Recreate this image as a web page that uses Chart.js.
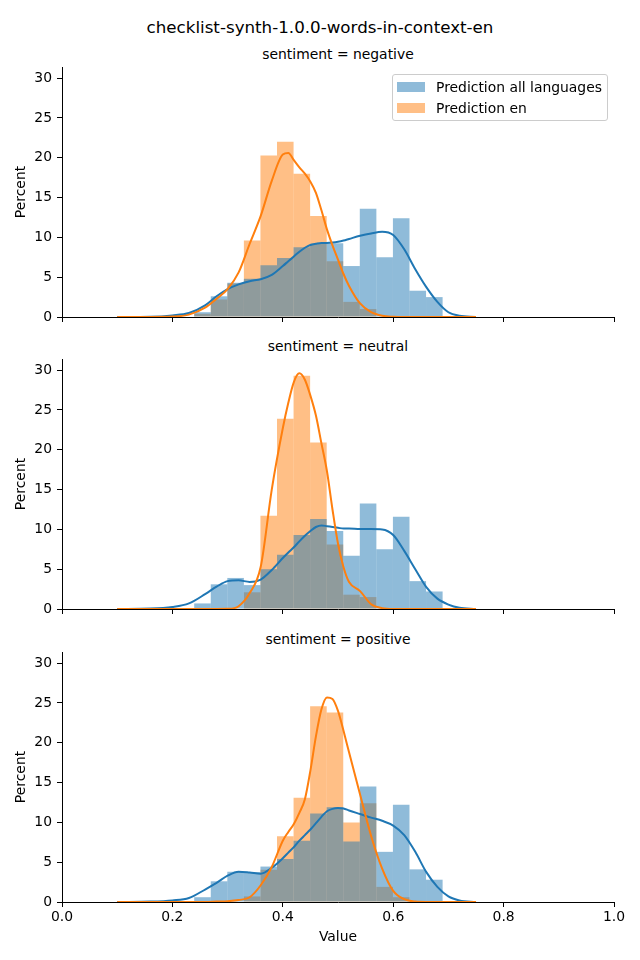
<!DOCTYPE html>
<html>
<head>
<meta charset="utf-8">
<script src="https://cdn.jsdelivr.net/npm/chart.js@4.4.1/dist/chart.umd.min.js"></script>
<style>
  body { margin: 0; background: #fff; }
  #wrap { position: relative; width: 640px; height: 960px; font-family: 'DejaVu Sans', sans-serif; color: #000; }
  canvas { position: absolute; left: 0; }
  .title { position: absolute; text-align: center; white-space: nowrap; }
  #legend { position: absolute; left: 392px; top: 74px; width: 214px; height: 45px; border: 1px solid #cccccc; border-radius: 3px; background: rgba(255,255,255,0.8); font-size: 13.9px; }
  .row { position: absolute; left: 0; height: 16px; line-height: 16px; }
  .patch { position: absolute; left: 4px; top: 3px; width: 28px; height: 10px; }
  .lbl { position: absolute; left: 43px; top: 0; white-space: nowrap; }
</style>
</head>
<body>
<div id="wrap">
  <div class="title" style="left:0;width:640px;top:17px;font-size:16.7px;line-height:20px;">checklist-synth-1.0.0-words-in-context-en</div>
  <div class="title" style="left:62px;width:552px;top:46px;font-size:13.9px;line-height:16px;">sentiment = negative</div>
  <div class="title" style="left:62px;width:552px;top:338px;font-size:13.9px;line-height:16px;">sentiment = neutral</div>
  <div class="title" style="left:62px;width:552px;top:631px;font-size:13.9px;line-height:16px;">sentiment = positive</div>
  <canvas id="neg" width="640" height="278" style="top:53px"></canvas>
  <canvas id="neu" width="640" height="278" style="top:345px"></canvas>
  <canvas id="pos" width="640" height="322" style="top:638px"></canvas>
  <div id="legend">
    <div class="row" style="top:4px"><span class="patch" style="background:rgba(31,119,180,0.5)"></span><span class="lbl">Prediction all languages</span></div>
    <div class="row" style="top:25px"><span class="patch" style="background:rgba(255,127,14,0.5)"></span><span class="lbl">Prediction en</span></div>
  </div>
</div>
<script>
// histogram bins (centres, width 0.03)
const binCenters = [0.2545, 0.2845, 0.3145, 0.3445, 0.3745, 0.4045, 0.4345, 0.4645, 0.4945, 0.5245, 0.5545, 0.5845, 0.6145, 0.6445, 0.6745];

// percent per bin
const negAll = [0.6, 2.6, 4.3, 4.8, 6.5, 7.4, 8.75, 9.2, 9.25, 6.4, 13.6, 7.5, 12.4, 3.3, 2.5];
const negEn  = [0.4, 2.2, 4.2, 9.6, 20.3, 22.0, 18.0, 12.7, 7.0, 1.9, 1.0, 0, 0, 0, 0];
const neuAll = [0.7, 3.1, 3.9, 3.0, 5.0, 6.8, 9.3, 11.3, 9.8, 6.7, 13.25, 7.5, 11.6, 3.5, 2.2];
const neuEn  = [0, 0, 0, 2.1, 11.7, 23.9, 29.3, 20.9, 8.1, 1.8, 1.5, 0, 0, 0, 0];
const posAll = [0.6, 2.6, 3.8, 3.75, 4.45, 5.4, 7.7, 11.1, 11.9, 7.6, 14.5, 6.3, 12.2, 4.1, 2.8];
const posEn  = [0, 0, 0, 0.7, 4.05, 8.25, 13.1, 24.6, 23.8, 10.0, 12.4, 1.9, 0.6, 0, 0];

// density curves, sampled at kdeX
const kdeX = [0.10, 0.16, 0.20, 0.23, 0.26, 0.28, 0.30, 0.32, 0.34, 0.36,
              0.38, 0.40, 0.41, 0.42, 0.43, 0.44, 0.45, 0.46, 0.47, 0.48,
              0.49, 0.50, 0.51, 0.52, 0.54, 0.56, 0.58, 0.60, 0.62, 0.64,
              0.66, 0.68, 0.70, 0.72, 0.75];
const kdeNegAll = [0, 0.03, 0.2, 0.5, 1.5, 2.6, 3.5, 4.1, 4.5, 4.75,
                   5.3, 6.4, 7.0, 7.6, 8.2, 8.7, 9.05, 9.2, 9.3, 9.3,
                   9.35, 9.45, 9.6, 9.8, 10.2, 10.5, 10.7, 10.3, 8.5, 6.0,
                   3.75, 1.9, 0.6, 0.15, 0];
const kdeNegEn  = [0, 0, 0.05, 0.3, 1.2, 2.3, 3.5, 5.6, 9.2, 12.7,
                   17.1, 20.4, 20.6, 19.7, 18.8, 18.0, 17.0, 15.6, 13.4, 11.0,
                   9.0, 7.2, 5.4, 3.9, 1.7, 0.6, 0.15, 0.03, 0, 0,
                   0, 0, 0, 0, 0];
const kdeNeuAll = [0, 0.05, 0.25, 0.7, 1.9, 2.8, 3.5, 3.6, 3.4, 3.7,
                   4.9, 6.4, 7.1, 7.75, 8.5, 9.2, 9.8, 10.3, 10.5, 10.4,
                   10.3, 10.2, 10.1, 10.1, 10.05, 10.05, 10.0, 9.3, 7.3, 5.0,
                   2.75, 1.3, 0.55, 0.15, 0];
const kdeNeuEn  = [0, 0, 0, 0, 0, 0, 0.02, 0.35, 2.0, 5.3,
                   15.0, 22.7, 25.9, 28.5, 29.6, 28.8, 26.8, 24.3, 20.8, 17.3,
                   12.5, 8.2, 5.25, 3.4, 2.25, 0.6, 0.1, 0, 0, 0,
                   0, 0, 0, 0, 0];
const kdePosAll = [0, 0.05, 0.2, 0.5, 1.6, 2.4, 3.3, 3.8, 3.7, 3.55,
                   4.3, 5.5, 6.2, 6.9, 7.7, 8.4, 9.1, 9.9, 10.7, 11.4,
                   11.7, 11.8, 11.75, 11.5, 11.05, 10.6, 10.2, 9.6, 8.4, 6.3,
                   3.75, 1.9, 0.7, 0.2, 0];
const kdePosEn  = [0, 0, 0, 0, 0, 0.05, 0.1, 0.25, 0.6, 2.1,
                   4.4, 7.7, 8.8, 9.8, 11.2, 12.9, 16.5, 20.8, 24.2, 25.7,
                   25.5, 24.0, 21.5, 18.8, 13.5, 8.3, 4.2, 1.4, 0.35, 0.05,
                   0, 0, 0, 0, 0];

// axis ticks
const xTicks = [0, 0.2, 0.4, 0.6, 0.8, 1.0];
const yTicks = [0, 5, 10, 15, 20, 25, 30];
const yMax = 31.4;

const BLUE = '#1f77b4';
const ORANGE = '#ff7f0e';

Chart.defaults.font.family = "'DejaVu Sans', sans-serif";
Chart.defaults.font.size = 13.9;
Chart.defaults.color = '#000';

function toPoints(xs, ys) {
    return xs.map((x, i) => ({ x: x, y: ys[i] }));
}

// draw one facet
function drawPanel(id, allVals, enVals, kdeAll, kdeEn, isBottom) {
    const ctx = document.getElementById(id).getContext('2d');
    new Chart(ctx, {
        type: 'bar',
        data: {
            datasets: [
                {
                    type: 'line',
                    data: toPoints(kdeX, kdeEn),
                    borderColor: ORANGE,
                    borderWidth: 2,
                    pointRadius: 0,
                    cubicInterpolationMode: 'monotone',
                    order: 0
                },
                {
                    type: 'line',
                    data: toPoints(kdeX, kdeAll),
                    borderColor: BLUE,
                    borderWidth: 2,
                    pointRadius: 0,
                    cubicInterpolationMode: 'monotone',
                    order: 1
                },
                {
                    data: toPoints(binCenters, allVals),
                    backgroundColor: 'rgba(31,119,180,0.5)',
                    borderWidth: 0,
                    inflateAmount: 0,
                    grouped: false,
                    barPercentage: 1,
                    categoryPercentage: 1,
                    order: 2
                },
                {
                    data: toPoints(binCenters, enVals),
                    backgroundColor: 'rgba(255,127,14,0.5)',
                    borderWidth: 0,
                    inflateAmount: 0,
                    grouped: false,
                    barPercentage: 1,
                    categoryPercentage: 1,
                    order: 3
                }
            ]
        },
        options: {
            responsive: false,
            animation: false,
            devicePixelRatio: 1,
            layout: { padding: { top: 14, right: 26, bottom: 0, left: 0 } },
            plugins: { legend: { display: false }, tooltip: { enabled: false } },
            scales: {
                x: {
                    type: 'linear',
                    min: 0,
                    max: 1,
                    offset: false,
                    grid: { offset: false, drawOnChartArea: false, drawTicks: true, tickLength: 5, color: '#000' },
                    border: { display: true, color: '#000', width: 1 },
                    afterBuildTicks: s => { s.ticks = xTicks.map(v => ({ value: v })); },
                    afterFit: s => { s.height = isBottom ? 58 : 14; },
                    ticks: {
                        display: isBottom,
                        padding: 2,
                        maxRotation: 0,
                        callback: v => v.toFixed(1)
                    },
                    title: {
                        display: isBottom,
                        text: 'Value',
                        padding: { top: 0, bottom: 14.7 }
                    }
                },
                y: {
                    min: 0,
                    max: yMax,
                    grid: { drawOnChartArea: false, drawTicks: true, tickLength: 5, color: '#000' },
                    border: { display: true, color: '#000', width: 1 },
                    afterBuildTicks: s => { s.ticks = yTicks.map(v => ({ value: v })); },
                    afterFit: s => { s.width = 62; },
                    ticks: { padding: 5, callback: v => String(v) },
                    title: {
                        display: true,
                        text: 'Percent',
                        padding: { top: 13, bottom: 0 }
                    }
                }
            }
        }
    });
}

window.addEventListener('load', function() {
    drawPanel('neg', negAll, negEn, kdeNegAll, kdeNegEn, false);
    drawPanel('neu', neuAll, neuEn, kdeNeuAll, kdeNeuEn, false);
    drawPanel('pos', posAll, posEn, kdePosAll, kdePosEn, true);
});
</script>
</body>
</html>
